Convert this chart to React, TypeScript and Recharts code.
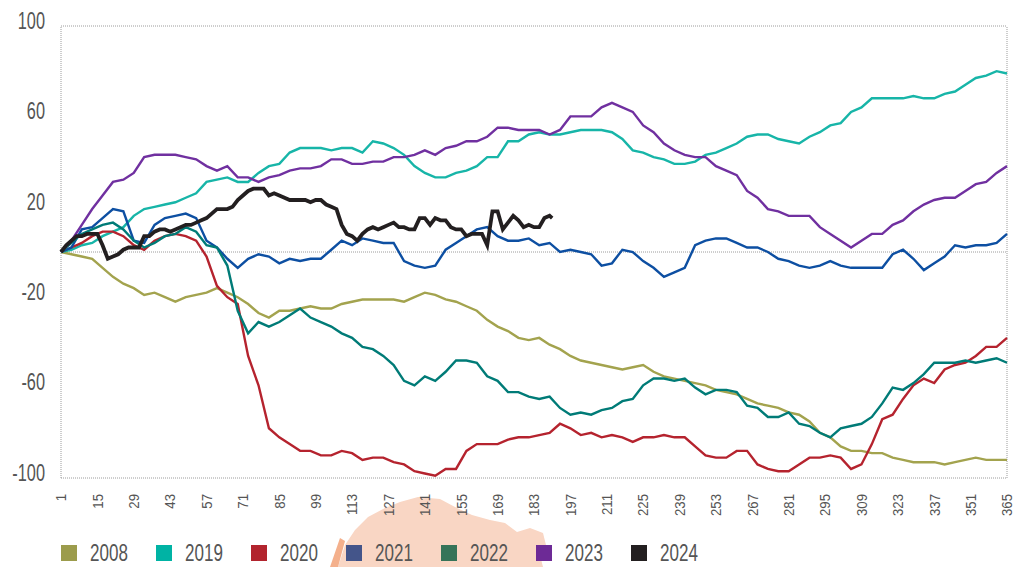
import React from 'react';
import { LineChart, Line, XAxis, YAxis, ReferenceLine } from 'recharts';

const days = [1,5,9,13,17,21,25,29,33,37,41,45,49,53,57,61,65,69,73,77,81,85,89,93,97,101,105,109,113,117,121,125,129,133,137,141,145,149,153,157,161,165,169,173,177,181,185,189,193,197,201,205,209,213,217,221,225,229,233,237,241,245,249,253,257,261,265,269,273,277,281,285,289,293,297,301,305,309,313,317,321,325,329,333,337,341,345,349,353,357,361,365];

const s2008 = [0,-1,-2,-3,-7,-11,-14,-16,-19,-18,
-20,-22,-20,-19,-18,-16,-18,-20,-23,-27,
-29,-26,-26,-25,-24,-25,-25,-23,-22,-21,
-21,-21,-21,-22,-20,-18,-19,-21,-22,-24,
-26,-30,-33,-35,-38,-39,-38,-41,-43,-46,
-48,-49,-50,-51,-52,-51,-50,-53,-55,-56,
-57,-58,-59,-61,-62,-63,-65,-67,-68,-69,
-71,-72,-75,-80,-82,-86,-88,-88,-89,-89,
-91,-92,-93,-93,-93,-94,-93,-92,-91,-92,
-92,-92];

const s2019 = [0,1,3,4,7,9,11,16,19,20,
21,22,24,26,31,32,33,31,31,35,
38,39,44,46,46,46,45,46,46,44,
49,48,46,43,38,35,33,33,35,36,
38,42,42,49,49,52,53,52,52,53,
54,54,54,53,50,45,44,42,41,39,
39,40,43,44,46,48,51,52,52,50,
49,48,51,53,56,57,62,64,68,68,
68,68,69,68,68,70,71,74,77,78,
80,79];

const s2020 = [0,2,4,7,9,9,7,3,1,5,
7,8,7,5,-2,-15,-20,-23,-46,-59,
-78,-82,-85,-88,-88,-90,-90,-88,-89,-92,
-91,-91,-93,-94,-97,-98,-99,-96,-96,-88,
-85,-85,-85,-83,-82,-82,-81,-80,-76,-78,
-81,-80,-82,-81,-82,-84,-82,-82,-81,-82,
-82,-86,-90,-91,-91,-88,-88,-94,-96,-97,
-97,-94,-91,-91,-90,-91,-96,-94,-85,-74,
-72,-65,-59,-56,-58,-52,-50,-49,-46,-42,
-42,-38];

const s2021 = [0,2,10,11,15,19,18,5,4,12,
15,16,17,15,5,2,-3,-7,-3,-1,
-2,-5,-3,-4,-3,-3,1,5,3,6,
5,4,4,-4,-6,-7,-6,1,4,7,
10,11,7,5,5,6,3,4,0,1,
0,-1,-6,-5,1,0,-4,-7,-11,-9,
-7,3,5,6,6,4,2,2,0,-3,
-4,-6,-7,-6,-4,-6,-7,-7,-7,-7,
-1,1,-3,-8,-5,-2,3,2,3,3,
4,8];

const s2022 = [0,4,8,10,12,13,10,5,2,4,
7,8,11,9,3,2,-6,-26,-36,-31,
-33,-31,-28,-25,-29,-31,-33,-36,-38,-42,
-43,-46,-50,-57,-59,-55,-57,-53,-48,-48,
-49,-55,-57,-62,-62,-64,-65,-64,-69,-72,
-71,-72,-70,-69,-66,-65,-59,-56,-56,-57,
-56,-60,-63,-61,-61,-62,-68,-69,-73,-73,
-71,-76,-77,-80,-82,-78,-77,-76,-73,-67,
-60,-61,-58,-54,-49,-49,-49,-48,-49,-48,
-47,-49];

const s2023 = [0,5,12,19,25,31,32,35,42,43,
43,43,42,41,38,36,38,33,33,31,
33,34,36,37,37,38,41,41,39,39,
40,40,42,42,43,45,43,46,47,49,
49,51,55,55,54,54,54,52,54,60,
60,60,64,66,64,62,56,53,48,45,
43,42,42,38,36,34,27,24,19,18,
16,16,16,11,8,5,2,5,8,8,
12,14,18,21,23,24,24,27,30,31,
35,38];

const days2024 = [1,3,5,7,9,11,13,15,17,19,21,23,25,27,29,31,33,35,37,39,41,43,45,47,49,51,53,55,57,59,61,63,65,67,69,71,73,75,77,79,81,83,85,87,89,91,93,95,97,99,101,103,105,107,109,111,113,115,117,119,121,123,125,127,129,131,133,135,137,139,141,143,145,147,149,151,153,155,157,159,161,163,165,167,169,171,173,175,177,179,181,183,185,187,189,190];

const s2024 = [0,3,5,7,7,8,8,8,3,-3,
-2,-1,1,2,2,2,7,7,9,10,
10,9,10,11,12,12,13,14,15,17,
19,19,19,20,23,25,27,28,28,28,
25,26,25,24,23,23,23,23,22,23,
23,21,20,19,12,8,7,5,8,10,
11,10,11,12,13,11,11,10,10,15,
15,12,15,14,14,11,10,10,7,8,
8,8,3,18,18,10,13,16,14,11,
12,11,11,15,16,15];

const years = ['2008', '2019', '2020', '2021', '2022', '2023', '2024'];
const seriesValues = [s2008, s2019, s2020, s2021, s2022, s2023];
const lineColors = ['#a3a34e', '#17b5a8', '#b5232e', '#0d4fa2', '#007b77', '#7030a0', '#231f20'];
const legendColors = ['#9c9c4c', '#00b3a4', '#b2242e', '#44558a', '#367459', '#6d2a96', '#231f20'];

const xTicks = [1,15,29,43,57,71,85,99,113,127,141,155,169,183,197,211,225,239,253,267,281,295,309,323,337,351,365];
const yTicks = [-100, -60, -20, 20, 60, 100];

const FONT = "'Liberation Sans', Arial, sans-serif";
const TEXT_COLOR = '#555555';
const DOT_COLOR = '#9c9c9c';

// merge into one table keyed by day
const allDays = Array.from(new Set([...days, ...days2024])).sort((a, b) => a - b);
const chartData = allDays.map((d) => {
  const row: Record<string, number | null> = { day: d };
  const i = days.indexOf(d);
  years.slice(0, 6).forEach((y, k) => {
    row['y' + y] = i >= 0 ? seriesValues[k][i] : null;
  });
  const j = days2024.indexOf(d);
  row['y2024'] = j >= 0 ? s2024[j] : null;
  return row;
});

const XTick = (props: any) => {
  const { x, y, payload } = props;
  return (
    <g transform={`translate(${x},${y + 16}) rotate(-90) scale(0.88,1)`}>
      <text x={0} y={0} textAnchor="end" dominantBaseline="central" fontSize={15} fontFamily={FONT} fill={TEXT_COLOR}>
        {payload.value}
      </text>
    </g>
  );
};

const YTick = (props: any) => {
  const { x, y, payload } = props;
  return (
    <g transform={`translate(${x - 16},${y - 6}) scale(0.68,1)`}>
      <text x={0} y={0} textAnchor="end" dominantBaseline="central" fontSize={24} fontFamily={FONT} fill={TEXT_COLOR}>
        {payload.value}
      </text>
    </g>
  );
};

export default function App() {
  return (
    <div style={{ position: 'absolute', left: 0, top: 0, width: 1015, height: 567, background: '#fff', overflow: 'hidden' }}>
      <svg width={1015} height={567} style={{ position: 'absolute', left: 0, top: 0 }}>
        <path
          d="M 338 567 L 345 545 L 355 530 L 368 517 L 385 508 L 400 502 L 418 497 L 440 499 L 455 507 L 472 515 L 490 520 L 505 523 L 517 532 L 530 528 L 543 533 L 546 545 L 540 555 L 543 567 Z"
          fill="#f9d6c4"
        />
        <path d="M 330 567 L 340 538 L 345 541 L 338 567 Z" fill="#f4b08c" />
      </svg>
      <div style={{ position: 'absolute', left: 0, top: 0 }}>
        <LineChart width={1015} height={567} data={chartData} margin={{ top: 26, right: 8, left: 0, bottom: 0 }}>
          <XAxis
            dataKey="day"
            type="number"
            domain={[1, 365]}
            ticks={xTicks}
            interval={0}
            tick={XTick}
            tickLine={false}
            axisLine={false}
            tickSize={0}
            tickMargin={0}
            height={89}
          />
          <YAxis
            type="number"
            domain={[-100, 100]}
            ticks={yTicks}
            interval={0}
            tick={YTick}
            tickLine={false}
            axisLine={false}
            tickSize={0}
            tickMargin={0}
            width={61}
          />
          <ReferenceLine y={100} stroke={DOT_COLOR} strokeDasharray="1 1" />
          <ReferenceLine y={-100} stroke={DOT_COLOR} strokeDasharray="1 1" />
          <ReferenceLine x={1} stroke={DOT_COLOR} strokeDasharray="1 1" />
          <ReferenceLine x={365} stroke={DOT_COLOR} strokeDasharray="1 1" />
          <ReferenceLine y={0} stroke={DOT_COLOR} strokeDasharray="1 1" />
          {years.map((y, k) => (
            <Line
              key={y}
              type="linear"
              dataKey={'y' + y}
              stroke={lineColors[k]}
              strokeWidth={y === '2024' ? 3.8 : 2.4}
              dot={false}
              activeDot={false}
              connectNulls
              isAnimationActive={false}
            />
          ))}
        </LineChart>
      </div>
      <div style={{ position: 'absolute', left: 61, top: 541, display: 'flex', fontFamily: FONT, fontSize: 23, color: TEXT_COLOR }}>
        {years.map((y, k) => (
          <div key={y} style={{ width: 95, display: 'flex', alignItems: 'center', height: 24 }}>
            <span style={{ display: 'inline-block', width: 16, height: 16, background: legendColors[k], marginRight: 13, flex: 'none' }} />
            <span style={{ display: 'inline-block', lineHeight: '24px', transform: 'scaleX(0.74)', transformOrigin: 'left center', whiteSpace: 'nowrap' }}>{y}</span>
          </div>
        ))}
      </div>
    </div>
  );
}
